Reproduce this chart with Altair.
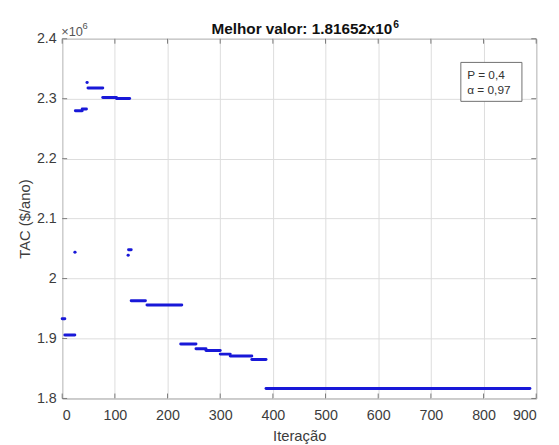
import altair as alt
import pandas as pd

# ---- data (values in units of 10^6 $/ano) ----
seg_start = [0, 5, 25, 38, 49, 77, 103, 131, 161, 225, 254, 273, 300, 319, 360, 387]
seg_end = [5, 24, 38, 46, 77, 103, 128, 158, 227, 254, 273, 300, 319, 360, 387, 888]
seg_value = [1.933, 1.906, 2.280, 2.283, 2.318, 2.302, 2.3005, 1.963, 1.956,
             1.891, 1.883, 1.880, 1.874, 1.871, 1.865, 1.81652]

dot_start = [24, 47, 126, 125]
dot_end = [24.5, 47.5, 131, 125.5]
dot_value = [2.044, 2.327, 2.048, 2.039]

x_ticks = [0, 100, 200, 300, 400, 500, 600, 700, 800, 900]
y_ticks = [1.8, 1.9, 2.0, 2.1, 2.2, 2.3, 2.4]

title_main = "Melhor valor: 1.81652x10"
title_exp = "6"
exp_base = "\u00d710"
exp_power = "6"
legend_lines = ["P = 0,4", "\u03b1 = 0,97"]
x_title = "Itera\u00e7\u00e3o"
y_title = "TAC ($/ano)"

W, H = 481, 365
FONT = "Liberation Sans"
BLUE = "#1818d8"

df = pd.DataFrame({
    "start": seg_start + dot_start,
    "end": seg_end + dot_end,
    "value": seg_value + dot_value,
})
xt = pd.DataFrame({"xt": x_ticks})
yt = pd.DataFrame({"yt": y_ticks})
one = pd.DataFrame({"k": [0]})

xscale = alt.Scale(domain=[0, 900], nice=False)
yscale = alt.Scale(domain=[1.8, 2.4], nice=False, zero=False)

xaxis = alt.Axis(values=x_ticks, grid=True, gridColor="#dcdcdc", domain=False,
                 ticks=False, labelFontSize=14.5, labelColor="#3c3c3c",
                 labelPadding=10, labelFont=FONT, title=x_title,
                 titleFont=FONT, titleFontSize=15, titleFontWeight="normal",
                 titleColor="#3c3c3c", titleY=43, titleBaseline="alphabetic")
yaxis = alt.Axis(values=y_ticks, format="~g", grid=True, gridColor="#dcdcdc",
                 domain=False, ticks=False, labelFontSize=14.5,
                 labelColor="#3c3c3c", labelPadding=6, labelFont=FONT,
                 title=y_title, titleFont=FONT, titleFontSize=15,
                 titleFontWeight="normal", titleColor="#3c3c3c",
                 titleX=-30, titleY=H / 2, titleBaseline="bottom",
                 titleAngle=-90, titleAlign="center")

X = lambda f: alt.X(f, type="quantitative", scale=xscale, axis=xaxis, title=x_title)
Y = lambda f: alt.Y(f, type="quantitative", scale=yscale, axis=yaxis, title=y_title)

lines = alt.Chart(df).mark_rule(strokeWidth=3, color=BLUE, strokeCap="round").encode(
    x=X("start"), x2="end", y=Y("value")
)

tick_col = "#7a7a7a"
xt_bottom = alt.Chart(xt).mark_rule(color=tick_col).encode(
    x=X("xt"), y=alt.value(H), y2=alt.value(H - 5))
xt_top = alt.Chart(xt).mark_rule(color=tick_col).encode(
    x=X("xt"), y=alt.value(0), y2=alt.value(5))
yt_left = alt.Chart(yt).mark_rule(color=tick_col).encode(
    y=Y("yt"), x=alt.value(0), x2=alt.value(5))
yt_right = alt.Chart(yt).mark_rule(color=tick_col).encode(
    y=Y("yt"), x=alt.value(W), x2=alt.value(W - 5))

t_main = alt.Chart(one).mark_text(font=FONT, fontSize=15.5, fontWeight="bold",
                                  align="right", baseline="alphabetic",
                                  color="#111111").encode(
    x=alt.value(335), y=alt.value(-4.5), text=alt.value(title_main))
t_exp = alt.Chart(one).mark_text(font=FONT, fontSize=10.5, fontWeight="bold",
                                 align="left", baseline="alphabetic",
                                 color="#111111").encode(
    x=alt.value(336), y=alt.value(-11), text=alt.value(title_exp))

e_base = alt.Chart(one).mark_text(font=FONT, fontSize=13, align="left",
                                  baseline="alphabetic", color="#555555").encode(
    x=alt.value(-1), y=alt.value(-3), text=alt.value(exp_base))
e_pow = alt.Chart(one).mark_text(font=FONT, fontSize=9.5, align="left",
                                 baseline="alphabetic", color="#555555").encode(
    x=alt.value(20.5), y=alt.value(-10), text=alt.value(exp_power))

box = alt.Chart(one).mark_rect(fill="white", stroke="#6f6f6f", strokeWidth=1).encode(
    x=alt.value(404.5), x2=alt.value(466.5), y=alt.value(24), y2=alt.value(63.5))
leg1 = alt.Chart(one).mark_text(font=FONT, fontSize=12, align="left",
                                baseline="alphabetic", color="#333333").encode(
    x=alt.value(411), y=alt.value(40.5), text=alt.value(legend_lines[0]))
leg2 = alt.Chart(one).mark_text(font=FONT, fontSize=12, align="left",
                                baseline="alphabetic", color="#333333").encode(
    x=alt.value(411), y=alt.value(56.5), text=alt.value(legend_lines[1]))

chart = alt.layer(
    lines, xt_bottom, xt_top, yt_left, yt_right,
    t_main, t_exp, e_base, e_pow, box, leg1, leg2
).properties(
    width=W, height=H,
    autosize=alt.AutoSizeParams(type="none"),
    padding={"left": 55, "top": 28, "right": 15, "bottom": 44},
    background="white",
).configure_view(stroke="#7a7a7a", strokeWidth=1)

chart.save("out.html", embed_options={"renderer": "svg", "actions": False})
